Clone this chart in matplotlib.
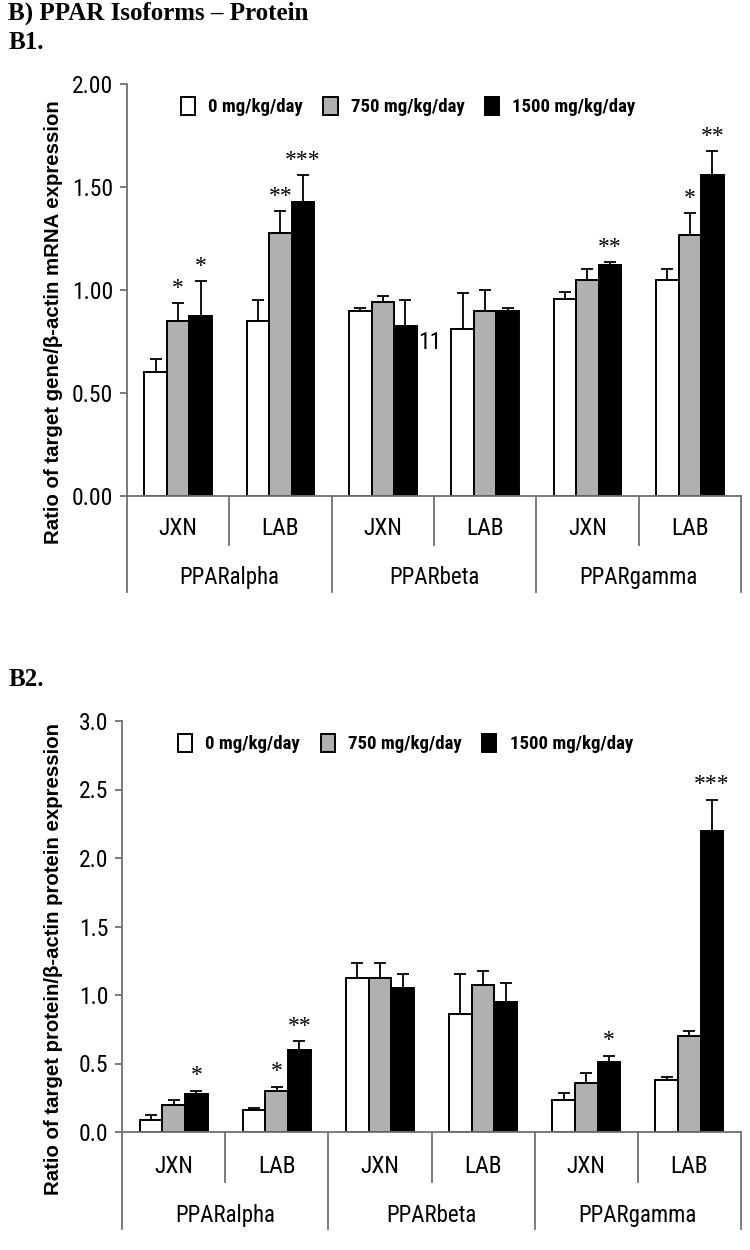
import matplotlib
matplotlib.use("Agg")
import matplotlib.pyplot as plt
from matplotlib import font_manager
from matplotlib.patches import Patch
from matplotlib.lines import Line2D
import numpy as np


def weight_num(w):
    if isinstance(w, int):
        return w
    return font_manager.weight_dict.get(w, 400)


# pick a narrow sans (with a bold face) if one is installed, else Liberation Sans
fams = {}
for f in font_manager.fontManager.ttflist:
    if "Narrow" in f.name or "Condensed" in f.name or f.stretch in ("condensed", "semi-condensed"):
        fams.setdefault(f.name, set()).add(weight_num(f.weight))
with_bold = sorted(n for n, ws in fams.items() if max(ws) >= 700)
pref = [n for n in ("Liberation Sans Narrow", "Roboto Condensed", "Open Sans Condensed")
        if n in fams]
choice = pref[:1] or with_bold[:1] or sorted(fams)[:1] or ["Liberation Sans"]
narrow = choice + ["DejaVu Sans"]
plt.rcParams["font.family"] = narrow

# data
sub_labels = ["JXN", "LAB", "JXN", "LAB", "JXN", "LAB"]
group_labels = ["PPARalpha", "PPARbeta", "PPARgamma"]
doses = ["0 mg/kg/day", "750 mg/kg/day", "1500 mg/kg/day"]

# B1 (mRNA)
mrna_0 = [0.60, 0.85, 0.90, 0.81, 0.955, 1.05]
mrna_750 = [0.85, 1.275, 0.94, 0.90, 1.05, 1.265]
mrna_1500 = [0.875, 1.425, 0.825, 0.90, 1.12, 1.56]
mrna_err_0 = [0.065, 0.10, 0.015, 0.175, 0.035, 0.05]
mrna_err_750 = [0.085, 0.11, 0.03, 0.10, 0.05, 0.11]
mrna_err_1500 = [0.17, 0.135, 0.125, 0.015, 0.015, 0.115]
mrna_stars_750 = ["*", "**", "", "", "", "*"]
mrna_stars_1500 = ["*", "***", "", "", "**", "**"]

# B2 (protein)
prot_0 = [0.085, 0.163, 1.126, 0.862, 0.235, 0.376]
prot_750 = [0.20, 0.30, 1.126, 1.075, 0.36, 0.70]
prot_1500 = [0.277, 0.60, 1.05, 0.95, 0.51, 2.20]
prot_err_0 = [0.04, 0.012, 0.11, 0.29, 0.05, 0.024]
prot_err_750 = [0.03, 0.03, 0.11, 0.10, 0.068, 0.036]
prot_err_1500 = [0.023, 0.063, 0.10, 0.14, 0.048, 0.225]
prot_stars_750 = ["", "*", "", "", "", ""]
prot_stars_1500 = ["*", "**", "", "", "*", "***"]

colors = ["white", "#b0b0b0", "black"]
axis_col = "#707070"
serif = ["Liberation Serif", "DejaVu Serif"]


def draw_panel(ax, vals, errs, stars, ymax, ystep, fmt, ylabel, star_off, lab_y, grp_y):
    x = np.arange(len(sub_labels))
    w = 0.22
    for i in range(3):
        xs = x + (i - 1) * w
        ax.bar(xs, vals[i], w, color=colors[i], edgecolor="black", linewidth=1.4, zorder=2)
        ax.errorbar(xs, vals[i], yerr=[np.zeros(len(x)), errs[i]], fmt="none",
                    ecolor="black", elinewidth=1.3, capsize=4, capthick=1.3, zorder=1)
    for i in (1, 2):
        for j, s in enumerate(stars[i - 1]):
            if s:
                ax.text(x[j] + (i - 1) * w, vals[i][j] + errs[i][j] + star_off, s,
                        ha="center", va="center", fontsize=17, family=serif, zorder=4)

    ax.set_xlim(-0.5, 5.5)
    ax.set_ylim(0, ymax)
    ax.set_yticks(np.arange(0, ymax + 1e-9, ystep))
    ax.set_yticklabels([fmt.format(v) for v in np.arange(0, ymax + 1e-9, ystep)])
    ax.set_xticks([])
    for s in ("top", "right"):
        ax.spines[s].set_visible(False)
    for s in ("left", "bottom"):
        ax.spines[s].set_color(axis_col)
        ax.spines[s].set_linewidth(1.3)
    ax.tick_params(axis="y", length=5, width=1.3, color=axis_col, labelsize=17, pad=5)
    ax.set_ylabel(ylabel, fontsize=14.7, fontweight="bold",
                  family=["Liberation Sans", "DejaVu Sans"])

    trans = ax.get_xaxis_transform()
    for xv in (0.5, 2.5, 4.5):
        ax.add_line(Line2D([xv, xv], [0, lab_y[1]], transform=trans, color=axis_col,
                           lw=1.3, clip_on=False))
    for xv in (-0.5, 1.5, 3.5, 5.5):
        ax.add_line(Line2D([xv, xv], [0, grp_y[1]], transform=trans, color=axis_col,
                           lw=1.3, clip_on=False))
    for j, t in enumerate(sub_labels):
        ax.text(j, lab_y[0], t, transform=trans, ha="center", va="center", fontsize=17)
    for g, t in enumerate(group_labels):
        ax.text(2 * g + 0.5, grp_y[0], t, transform=trans, ha="center", va="center", fontsize=16.5)

    handles = [Patch(facecolor=c, edgecolor="black", linewidth=1.4) for c in colors]
    ax.legend(handles, doses, loc="center", bbox_to_anchor=(0.458, 0.945), ncol=3,
              frameon=False, handlelength=0.75, handleheight=1.1, handletextpad=0.7,
              columnspacing=1.1, prop={"size": 13.5, "weight": "bold", "family": narrow})


fig = plt.figure(figsize=(7.5, 12.5), dpi=100)

fig.text(0.011, 0.989, "B) PPAR Isoforms \u2013 Protein", ha="left", va="center",
         fontsize=18, fontweight="bold", family=serif)
fig.text(0.011, 0.966, "B1.", ha="left", va="center",
         fontsize=18, fontweight="bold", family=serif)
fig.text(0.011, 0.456, "B2.", ha="left", va="center",
         fontsize=18, fontweight="bold", family=serif)

ax1 = fig.add_axes([0.1693, 0.6032, 0.8187, 0.3296])
draw_panel(ax1, [mrna_0, mrna_750, mrna_1500], [mrna_err_0, mrna_err_750, mrna_err_1500],
           [mrna_stars_750, mrna_stars_1500], 2.0, 0.5, "{:.2f}",
           "Ratio of target gene/\u03b2-actin mRNA expression", 0.07,
           (-0.078, -0.119), (-0.199, -0.233))
ax1.yaxis.set_label_coords(-0.104, 0.422)
ax1.text(2.345, 0.745, "11", ha="left", va="center", fontsize=17)

ax2 = fig.add_axes([0.1627, 0.0944, 0.8253, 0.3288])
draw_panel(ax2, [prot_0, prot_750, prot_1500], [prot_err_0, prot_err_750, prot_err_1500],
           [prot_stars_750, prot_stars_1500], 3.0, 0.5, "{:.1f}",
           "Ratio of target protein/\u03b2-actin protein expression", 0.11,
           (-0.085, -0.122), (-0.202, -0.236))
ax2.yaxis.set_label_coords(-0.095, 0.421)

fig.savefig("out.png", dpi=100, facecolor="white")
